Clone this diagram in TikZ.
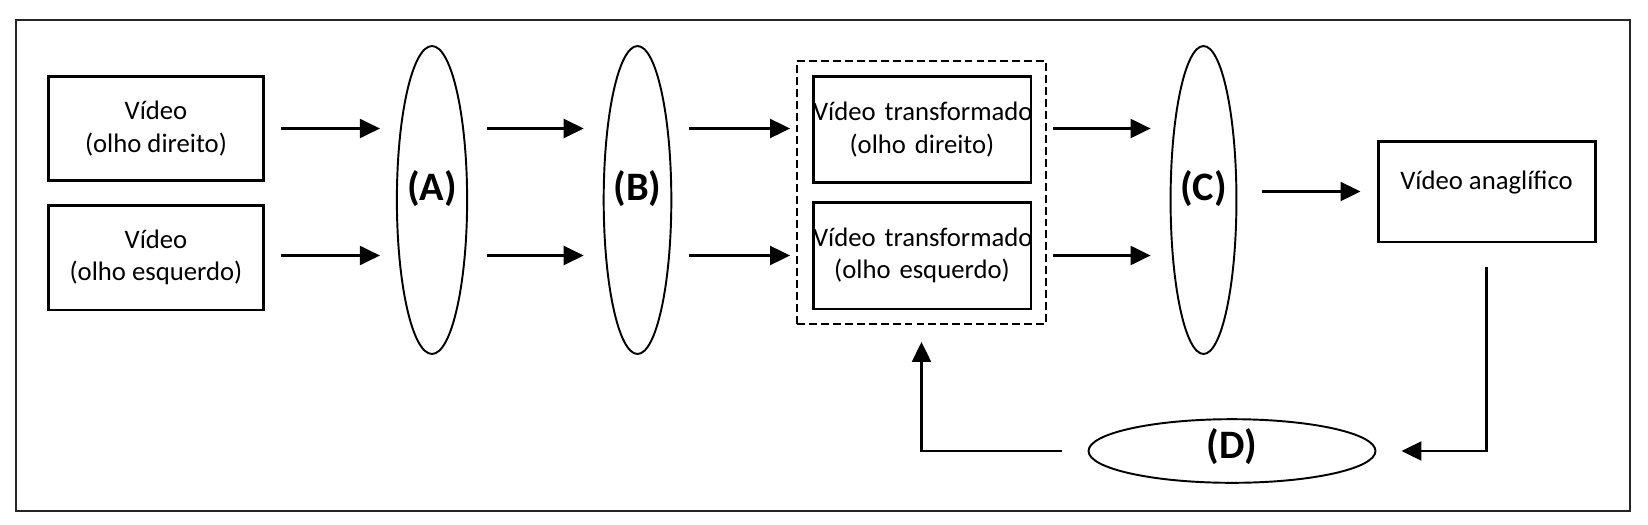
\documentclass[tikz,border=0pt]{standalone}
\usepackage{fontspec}
\setmainfont{Carlito}
\usetikzlibrary{arrows.meta,shapes.geometric}

\tikzset{
  box/.style={draw, line width=1.7pt, inner sep=0pt, align=center,
    font=\fontsize{15.2}{18.5}\selectfont},
  lens/.style={draw, ellipse, line width=1.1pt, inner sep=0pt,
    font=\fontsize{23}{27}\selectfont\bfseries},
  arr/.style={line width=1.2pt, -{Triangle[length=0.4cm,width=0.38cm]}}
}

\begin{document}
\begin{tikzpicture}[x=0.02cm,y=-0.02cm]
\useasboundingbox (0,0) rectangle (1648,524);
\draw[black!85, line width=1.1pt] (16,20) rectangle (1630,511);

\node[box, minimum width=4.32cm, minimum height=2.1cm] (dir) at (156,128.5) {Vídeo\\(olho direito)};
\node[box, minimum width=4.32cm, minimum height=2.1cm] (esq) at (156,257.5) {Vídeo\\(olho esquerdo)};

\node[lens, minimum width=1.28cm, minimum height=6.16cm, text depth=0.6cm] (A) at (432,200) {(A)};
\node[lens, minimum width=1.28cm, minimum height=6.16cm, text depth=0.6cm] (B) at (637.5,200) {(B)};

\node[draw, dash pattern=on 4.5pt off 2.3pt, line width=1.1pt, minimum width=4.98cm, minimum height=5.26cm] (grp) at (921.5,192.5) {};
\node[box, text width=4.36cm, minimum height=2.14cm] (tdir) at (922,129.5) {\mbox{Vídeo transformado}\\\mbox{(olho direito)}};
\node[box, text width=4.36cm, minimum height=2.14cm] (tesq) at (922,255.5) {\mbox{Vídeo transformado}\\\mbox{(olho esquerdo)}};

\node[lens, minimum width=1.26cm, minimum height=6.16cm, text depth=0.6cm] (C) at (1203.5,200) {(C)};
\node[box, minimum width=4.34cm, minimum height=2.02cm, text depth=0.45cm] (anag) at (1486.5,191.5) {Vídeo anaglífico};
\node[lens, minimum width=5.74cm, minimum height=1.18cm, text depth=0.3cm] (D) at (1232,451) {(D)};

\draw[arr, shorten <=0.32cm, shorten >=0.32cm] (dir.east) -- (A.west |- dir.east);
\draw[arr, shorten <=0.32cm, shorten >=0.32cm] (esq.east |- tesq.east) -- (A.west |- tesq.east);
\draw[arr, shorten <=0.38cm, shorten >=0.38cm] (A.east |- dir.east) -- (B.west |- dir.east);
\draw[arr, shorten <=0.38cm, shorten >=0.38cm] (A.east |- tesq.east) -- (B.west |- tesq.east);
\draw[arr, shorten <=0.33cm, shorten >=0.12cm] (B.east |- dir.east) -- (grp.west |- dir.east);
\draw[arr, shorten <=0.33cm, shorten >=0.12cm] (B.east |- tesq.east) -- (grp.west |- tesq.east);
\draw[arr, shorten <=0.12cm, shorten >=0.38cm] (grp.east |- dir.east) -- (C.west |- dir.east);
\draw[arr, shorten <=0.12cm, shorten >=0.38cm] (grp.east |- tesq.east) -- (C.west |- tesq.east);
\draw[arr, shorten <=0.5cm, shorten >=0.32cm] (C.east |- anag.west) -- (anag.west);

\draw[arr, shorten <=0.48cm, shorten >=0.5cm] (anag.south) |- (D.east);
\draw[arr, shorten <=0.52cm, shorten >=0.34cm] (D.west) -| (grp.south);

\end{tikzpicture}
\end{document}
